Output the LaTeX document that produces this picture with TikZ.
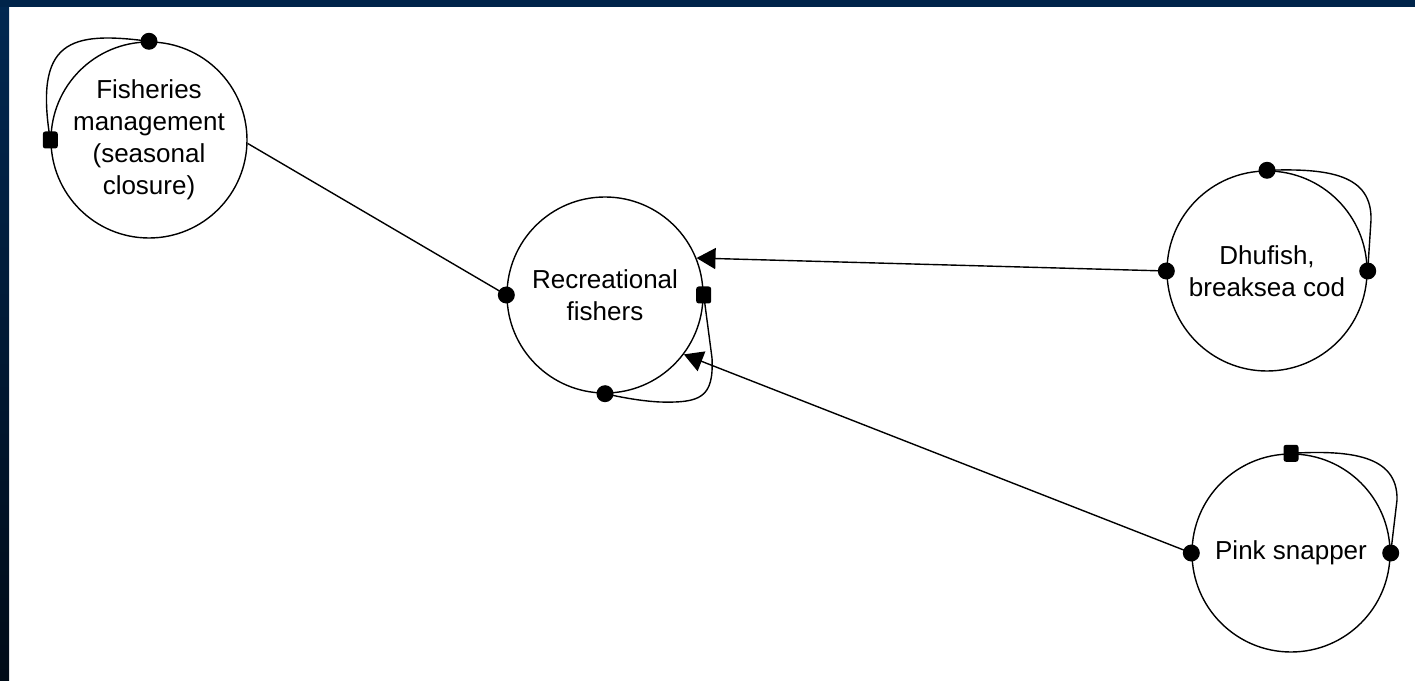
\documentclass[tikz,border=0pt]{standalone}
\usepackage{fontspec}
\setmainfont{Liberation Sans}
\usetikzlibrary{arrows.meta}
\definecolor{bandtop}{HTML}{00244A}
\definecolor{bandleftA}{HTML}{012852}
\definecolor{bandleftB}{HTML}{000B17}
\begin{document}
\begin{tikzpicture}[x=1pt,y=1pt,
  comp/.style={draw, circle, line width=1.4pt, inner sep=0pt, minimum size=196pt,
    align=center, font=\fontsize{26}{32}\selectfont},
  link/.style={line width=1.4pt},
  dotm/.style={circle, fill=black, inner sep=0pt, minimum size=17pt},
  sqm/.style={rectangle, fill=black, inner sep=0pt, minimum width=15pt,
    minimum height=17pt, rounded corners=2.5pt},
  posarrow/.style={-{Triangle[length=19pt,width=21pt]}}
]
\useasboundingbox (0,0) rectangle (1415,680);
\fill[white] (0,0) rectangle (1415,680);
\shade[top color=bandleftA, bottom color=bandleftB] (0,0) rectangle (9,680);
\fill[bandtop] (0,673) rectangle (1415,680);

% components
\node[comp] (fm) at (149,540) {Fisheries\\management\\(seasonal\\closure)};
\node[comp] (rf) at (605,385) {Recreational\\fishers};
\node[comp, minimum size=200pt] (dh) at (1267,409) {Dhufish,\\breaksea cod};
\node[comp, minimum size=198pt] (pk) at (1291,127) {Pink snapper};

% links between components
\draw[link] (fm.-2) -- (rf.180);
\draw[link, posarrow] (dh.180) -- (rf.22);
\draw[link, posarrow] (pk.180) -- (rf.-37);

% self-loops
\draw[link] (fm.180) .. controls (34,640) and (70,649) .. (fm.90);
\draw[link] (rf.0) -- (712,322) .. controls (714,282) and (700,277) .. (660,278)
  .. controls (640,279) and (620,283) .. (rf.270);
\draw[link] (dh.90) .. controls (1330,512) and (1372,505) .. (1371,460) -- (dh.0);
\draw[link] (pk.90) .. controls (1350,230) and (1398,225) .. (1397,180) -- (pk.0);

% markers
\node[dotm] (m1) at (rf.180) {};
\node[dotm] (m2) at (fm.90) {};
\node[sqm] (m3) at (fm.180) {};
\node[sqm] (m4) at (rf.0) {};
\node[dotm] (m5) at (rf.270) {};
\node[dotm] (m6) at (dh.180) {};
\node[dotm] (m7) at (dh.90) {};
\node[dotm] (m8) at (dh.0) {};
\node[dotm] (m9) at (pk.180) {};
\node[sqm] (m10) at (pk.90) {};
\node[dotm] (m11) at (pk.0) {};
\end{tikzpicture}
\end{document}
